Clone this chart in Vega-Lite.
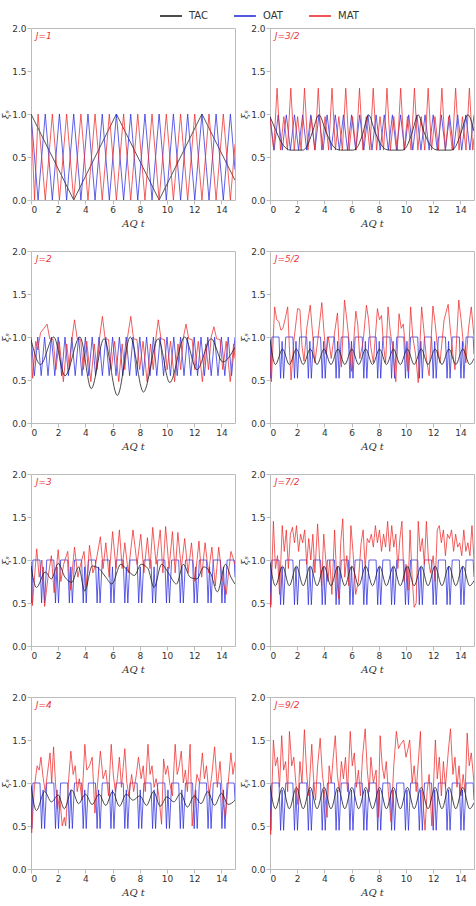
{
"$schema":"https://vega.github.io/schema/vega-lite/v6.json",
"padding":{"left":0,"top":4,"right":0,"bottom":0},
"data":{"values":[
{"p":"J=1","s":"TAC","x":0,"y":1},{"p":"J=1","s":"TAC","x":3.14,"y":0},{"p":"J=1","s":"TAC","x":6.28,"y":1},{"p":"J=1","s":"TAC","x":9.42,"y":0},{"p":"J=1","s":"TAC","x":12.57,"y":1},{"p":"J=1","s":"TAC","x":15,"y":0.23},
{"p":"J=1","s":"OAT","x":0,"y":1},{"p":"J=1","s":"OAT","x":0.52,"y":0},{"p":"J=1","s":"OAT","x":1.05,"y":1},{"p":"J=1","s":"OAT","x":1.57,"y":0},{"p":"J=1","s":"OAT","x":2.09,"y":1},{"p":"J=1","s":"OAT","x":2.62,"y":0},{"p":"J=1","s":"OAT","x":3.14,"y":1},{"p":"J=1","s":"OAT","x":3.67,"y":0},{"p":"J=1","s":"OAT","x":4.19,"y":1},{"p":"J=1","s":"OAT","x":4.71,"y":0},{"p":"J=1","s":"OAT","x":5.24,"y":1},{"p":"J=1","s":"OAT","x":5.76,"y":0},{"p":"J=1","s":"OAT","x":6.28,"y":1},{"p":"J=1","s":"OAT","x":6.81,"y":0},{"p":"J=1","s":"OAT","x":7.33,"y":1},{"p":"J=1","s":"OAT","x":7.85,"y":0},{"p":"J=1","s":"OAT","x":8.38,"y":1},{"p":"J=1","s":"OAT","x":8.9,"y":0},{"p":"J=1","s":"OAT","x":9.42,"y":1},{"p":"J=1","s":"OAT","x":9.95,"y":0},{"p":"J=1","s":"OAT","x":10.47,"y":1},{"p":"J=1","s":"OAT","x":11.0,"y":0},{"p":"J=1","s":"OAT","x":11.52,"y":1},{"p":"J=1","s":"OAT","x":12.04,"y":0},{"p":"J=1","s":"OAT","x":12.57,"y":1},{"p":"J=1","s":"OAT","x":13.09,"y":0},{"p":"J=1","s":"OAT","x":13.61,"y":1},{"p":"J=1","s":"OAT","x":14.14,"y":0},{"p":"J=1","s":"OAT","x":14.66,"y":1},{"p":"J=1","s":"OAT","x":15,"y":0.35},
{"p":"J=1","s":"MAT","x":0,"y":1},{"p":"J=1","s":"MAT","x":0.26,"y":0},{"p":"J=1","s":"MAT","x":0.52,"y":1},{"p":"J=1","s":"MAT","x":1.05,"y":0},{"p":"J=1","s":"MAT","x":1.57,"y":1},{"p":"J=1","s":"MAT","x":2.09,"y":0},{"p":"J=1","s":"MAT","x":2.62,"y":1},{"p":"J=1","s":"MAT","x":3.14,"y":0},{"p":"J=1","s":"MAT","x":3.67,"y":1},{"p":"J=1","s":"MAT","x":4.19,"y":0},{"p":"J=1","s":"MAT","x":4.71,"y":1},{"p":"J=1","s":"MAT","x":5.24,"y":0},{"p":"J=1","s":"MAT","x":5.76,"y":1},{"p":"J=1","s":"MAT","x":6.28,"y":0},{"p":"J=1","s":"MAT","x":6.81,"y":1},{"p":"J=1","s":"MAT","x":7.33,"y":0},{"p":"J=1","s":"MAT","x":7.85,"y":1},{"p":"J=1","s":"MAT","x":8.38,"y":0},{"p":"J=1","s":"MAT","x":8.9,"y":1},{"p":"J=1","s":"MAT","x":9.42,"y":0},{"p":"J=1","s":"MAT","x":9.95,"y":1},{"p":"J=1","s":"MAT","x":10.47,"y":0},{"p":"J=1","s":"MAT","x":11.0,"y":1},{"p":"J=1","s":"MAT","x":11.52,"y":0},{"p":"J=1","s":"MAT","x":12.04,"y":1},{"p":"J=1","s":"MAT","x":12.57,"y":0},{"p":"J=1","s":"MAT","x":13.09,"y":1},{"p":"J=1","s":"MAT","x":13.61,"y":0},{"p":"J=1","s":"MAT","x":14.14,"y":1},{"p":"J=1","s":"MAT","x":14.66,"y":0},{"p":"J=1","s":"MAT","x":15,"y":0.65},

{"p":"J=3/2","s":"TAC","x":0,"y":0.97},{"p":"J=3/2","s":"TAC","x":0.4,"y":0.82},{"p":"J=3/2","s":"TAC","x":0.8,"y":0.68},{"p":"J=3/2","s":"TAC","x":1.2,"y":0.6},{"p":"J=3/2","s":"TAC","x":1.5,"y":0.58},{"p":"J=3/2","s":"TAC","x":2.4,"y":0.58},{"p":"J=3/2","s":"TAC","x":2.7,"y":0.62},{"p":"J=3/2","s":"TAC","x":3.1,"y":0.78},{"p":"J=3/2","s":"TAC","x":3.6,"y":0.99},{"p":"J=3/2","s":"TAC","x":4.1,"y":0.8},{"p":"J=3/2","s":"TAC","x":4.5,"y":0.66},{"p":"J=3/2","s":"TAC","x":4.9,"y":0.59},{"p":"J=3/2","s":"TAC","x":5.2,"y":0.58},{"p":"J=3/2","s":"TAC","x":6.1,"y":0.58},{"p":"J=3/2","s":"TAC","x":6.4,"y":0.61},{"p":"J=3/2","s":"TAC","x":6.8,"y":0.76},{"p":"J=3/2","s":"TAC","x":7.25,"y":0.99},{"p":"J=3/2","s":"TAC","x":7.7,"y":0.8},{"p":"J=3/2","s":"TAC","x":8.1,"y":0.66},{"p":"J=3/2","s":"TAC","x":8.5,"y":0.59},{"p":"J=3/2","s":"TAC","x":8.8,"y":0.58},{"p":"J=3/2","s":"TAC","x":9.7,"y":0.58},{"p":"J=3/2","s":"TAC","x":10.0,"y":0.61},{"p":"J=3/2","s":"TAC","x":10.4,"y":0.76},{"p":"J=3/2","s":"TAC","x":10.9,"y":0.99},{"p":"J=3/2","s":"TAC","x":11.3,"y":0.8},{"p":"J=3/2","s":"TAC","x":11.7,"y":0.66},{"p":"J=3/2","s":"TAC","x":12.1,"y":0.59},{"p":"J=3/2","s":"TAC","x":12.4,"y":0.58},{"p":"J=3/2","s":"TAC","x":13.3,"y":0.58},{"p":"J=3/2","s":"TAC","x":13.6,"y":0.61},{"p":"J=3/2","s":"TAC","x":14.0,"y":0.76},{"p":"J=3/2","s":"TAC","x":14.55,"y":0.99},{"p":"J=3/2","s":"TAC","x":15,"y":0.8},
{"p":"J=3/2","s":"OAT","x":0,"y":0.97},{"p":"J=3/2","s":"OAT","x":0.3,"y":0.58},{"p":"J=3/2","s":"OAT","x":0.6,"y":0.99},{"p":"J=3/2","s":"OAT","x":0.9,"y":0.58},{"p":"J=3/2","s":"OAT","x":1.2,"y":0.99},{"p":"J=3/2","s":"OAT","x":1.5,"y":0.58},{"p":"J=3/2","s":"OAT","x":1.8,"y":0.99},{"p":"J=3/2","s":"OAT","x":2.1,"y":0.58},{"p":"J=3/2","s":"OAT","x":2.4,"y":0.99},{"p":"J=3/2","s":"OAT","x":2.7,"y":0.58},{"p":"J=3/2","s":"OAT","x":3.0,"y":0.99},{"p":"J=3/2","s":"OAT","x":3.3,"y":0.58},{"p":"J=3/2","s":"OAT","x":3.6,"y":0.99},{"p":"J=3/2","s":"OAT","x":3.9,"y":0.58},{"p":"J=3/2","s":"OAT","x":4.2,"y":0.99},{"p":"J=3/2","s":"OAT","x":4.5,"y":0.58},{"p":"J=3/2","s":"OAT","x":4.8,"y":0.99},{"p":"J=3/2","s":"OAT","x":5.1,"y":0.58},{"p":"J=3/2","s":"OAT","x":5.4,"y":0.99},{"p":"J=3/2","s":"OAT","x":5.7,"y":0.58},{"p":"J=3/2","s":"OAT","x":6.0,"y":0.99},{"p":"J=3/2","s":"OAT","x":6.3,"y":0.58},{"p":"J=3/2","s":"OAT","x":6.6,"y":0.99},{"p":"J=3/2","s":"OAT","x":6.9,"y":0.58},{"p":"J=3/2","s":"OAT","x":7.2,"y":0.99},{"p":"J=3/2","s":"OAT","x":7.5,"y":0.58},{"p":"J=3/2","s":"OAT","x":7.8,"y":0.99},{"p":"J=3/2","s":"OAT","x":8.1,"y":0.58},{"p":"J=3/2","s":"OAT","x":8.4,"y":0.99},{"p":"J=3/2","s":"OAT","x":8.7,"y":0.58},{"p":"J=3/2","s":"OAT","x":9.0,"y":0.99},{"p":"J=3/2","s":"OAT","x":9.3,"y":0.58},{"p":"J=3/2","s":"OAT","x":9.6,"y":0.99},{"p":"J=3/2","s":"OAT","x":9.9,"y":0.58},{"p":"J=3/2","s":"OAT","x":10.2,"y":0.99},{"p":"J=3/2","s":"OAT","x":10.5,"y":0.58},{"p":"J=3/2","s":"OAT","x":10.8,"y":0.99},{"p":"J=3/2","s":"OAT","x":11.1,"y":0.58},{"p":"J=3/2","s":"OAT","x":11.4,"y":0.99},{"p":"J=3/2","s":"OAT","x":11.7,"y":0.58},{"p":"J=3/2","s":"OAT","x":12.0,"y":0.99},{"p":"J=3/2","s":"OAT","x":12.3,"y":0.58},{"p":"J=3/2","s":"OAT","x":12.6,"y":0.99},{"p":"J=3/2","s":"OAT","x":12.9,"y":0.58},{"p":"J=3/2","s":"OAT","x":13.2,"y":0.99},{"p":"J=3/2","s":"OAT","x":13.5,"y":0.58},{"p":"J=3/2","s":"OAT","x":13.8,"y":0.99},{"p":"J=3/2","s":"OAT","x":14.1,"y":0.58},{"p":"J=3/2","s":"OAT","x":14.4,"y":0.99},{"p":"J=3/2","s":"OAT","x":14.7,"y":0.58},{"p":"J=3/2","s":"OAT","x":15,"y":0.99},
{"p":"J=3/2","s":"MAT","x":0,"y":0.95},{"p":"J=3/2","s":"MAT","x":0.27,"y":0.58},
{"p":"J=3/2","s":"MAT","x":0.52,"y":1.3},{"p":"J=3/2","s":"MAT","x":0.77,"y":0.58},{"p":"J=3/2","s":"MAT","x":1.02,"y":0.97},{"p":"J=3/2","s":"MAT","x":1.28,"y":0.58},
{"p":"J=3/2","s":"MAT","x":1.53,"y":1.3},{"p":"J=3/2","s":"MAT","x":1.78,"y":0.58},{"p":"J=3/2","s":"MAT","x":2.03,"y":0.97},{"p":"J=3/2","s":"MAT","x":2.29,"y":0.58},
{"p":"J=3/2","s":"MAT","x":2.54,"y":1.3},{"p":"J=3/2","s":"MAT","x":2.79,"y":0.58},{"p":"J=3/2","s":"MAT","x":3.04,"y":0.97},{"p":"J=3/2","s":"MAT","x":3.3,"y":0.58},
{"p":"J=3/2","s":"MAT","x":3.55,"y":1.3},{"p":"J=3/2","s":"MAT","x":3.8,"y":0.58},{"p":"J=3/2","s":"MAT","x":4.05,"y":0.97},{"p":"J=3/2","s":"MAT","x":4.31,"y":0.58},
{"p":"J=3/2","s":"MAT","x":4.56,"y":1.3},{"p":"J=3/2","s":"MAT","x":4.81,"y":0.58},{"p":"J=3/2","s":"MAT","x":5.06,"y":0.97},{"p":"J=3/2","s":"MAT","x":5.32,"y":0.58},
{"p":"J=3/2","s":"MAT","x":5.57,"y":1.3},{"p":"J=3/2","s":"MAT","x":5.82,"y":0.58},{"p":"J=3/2","s":"MAT","x":6.07,"y":0.97},{"p":"J=3/2","s":"MAT","x":6.33,"y":0.58},
{"p":"J=3/2","s":"MAT","x":6.58,"y":1.3},{"p":"J=3/2","s":"MAT","x":6.83,"y":0.58},{"p":"J=3/2","s":"MAT","x":7.08,"y":0.97},{"p":"J=3/2","s":"MAT","x":7.34,"y":0.58},
{"p":"J=3/2","s":"MAT","x":7.59,"y":1.3},{"p":"J=3/2","s":"MAT","x":7.84,"y":0.58},{"p":"J=3/2","s":"MAT","x":8.09,"y":0.97},{"p":"J=3/2","s":"MAT","x":8.35,"y":0.58},
{"p":"J=3/2","s":"MAT","x":8.6,"y":1.3},{"p":"J=3/2","s":"MAT","x":8.85,"y":0.58},{"p":"J=3/2","s":"MAT","x":9.1,"y":0.97},{"p":"J=3/2","s":"MAT","x":9.36,"y":0.58},
{"p":"J=3/2","s":"MAT","x":9.61,"y":1.3},{"p":"J=3/2","s":"MAT","x":9.86,"y":0.58},{"p":"J=3/2","s":"MAT","x":10.11,"y":0.97},{"p":"J=3/2","s":"MAT","x":10.37,"y":0.58},
{"p":"J=3/2","s":"MAT","x":10.62,"y":1.3},{"p":"J=3/2","s":"MAT","x":10.87,"y":0.58},{"p":"J=3/2","s":"MAT","x":11.12,"y":0.97},{"p":"J=3/2","s":"MAT","x":11.38,"y":0.58},
{"p":"J=3/2","s":"MAT","x":11.63,"y":1.3},{"p":"J=3/2","s":"MAT","x":11.88,"y":0.58},{"p":"J=3/2","s":"MAT","x":12.13,"y":0.97},{"p":"J=3/2","s":"MAT","x":12.39,"y":0.58},
{"p":"J=3/2","s":"MAT","x":12.64,"y":1.3},{"p":"J=3/2","s":"MAT","x":12.89,"y":0.58},{"p":"J=3/2","s":"MAT","x":13.14,"y":0.97},{"p":"J=3/2","s":"MAT","x":13.4,"y":0.58},
{"p":"J=3/2","s":"MAT","x":13.65,"y":1.3},{"p":"J=3/2","s":"MAT","x":13.9,"y":0.58},{"p":"J=3/2","s":"MAT","x":14.15,"y":0.97},{"p":"J=3/2","s":"MAT","x":14.41,"y":0.58},
{"p":"J=3/2","s":"MAT","x":14.66,"y":1.3},{"p":"J=3/2","s":"MAT","x":14.91,"y":0.58},{"p":"J=3/2","s":"MAT","x":15,"y":0.72},

{"p":"J=2","s":"TAC","x":0,"y":0.97},{"p":"J=2","s":"TAC","x":0.7,"y":0.68},{"p":"J=2","s":"TAC","x":1.67,"y":1.0},{"p":"J=2","s":"TAC","x":2.5,"y":0.55},{"p":"J=2","s":"TAC","x":3.6,"y":1.0},{"p":"J=2","s":"TAC","x":4.43,"y":0.4},{"p":"J=2","s":"TAC","x":5.37,"y":0.98},{"p":"J=2","s":"TAC","x":6.35,"y":0.32},{"p":"J=2","s":"TAC","x":7.3,"y":1.0},{"p":"J=2","s":"TAC","x":8.27,"y":0.36},{"p":"J=2","s":"TAC","x":9.35,"y":0.98},{"p":"J=2","s":"TAC","x":10.2,"y":0.47},{"p":"J=2","s":"TAC","x":11.3,"y":1.0},{"p":"J=2","s":"TAC","x":12.2,"y":0.62},{"p":"J=2","s":"TAC","x":13.25,"y":0.98},{"p":"J=2","s":"TAC","x":14.1,"y":0.71},{"p":"J=2","s":"TAC","x":15,"y":0.88},
{"p":"J=2","s":"OAT","x":0,"y":1},{"p":"J=2","s":"OAT","x":0.25,"y":0.55},{"p":"J=2","s":"OAT","x":0.5,"y":1},{"p":"J=2","s":"OAT","x":0.75,"y":0.55},{"p":"J=2","s":"OAT","x":1.0,"y":1},{"p":"J=2","s":"OAT","x":1.25,"y":0.55},{"p":"J=2","s":"OAT","x":1.5,"y":1},{"p":"J=2","s":"OAT","x":1.75,"y":0.55},{"p":"J=2","s":"OAT","x":2.0,"y":1},{"p":"J=2","s":"OAT","x":2.25,"y":0.55},{"p":"J=2","s":"OAT","x":2.5,"y":1},{"p":"J=2","s":"OAT","x":2.75,"y":0.55},{"p":"J=2","s":"OAT","x":3.0,"y":1},{"p":"J=2","s":"OAT","x":3.25,"y":0.55},{"p":"J=2","s":"OAT","x":3.5,"y":1},{"p":"J=2","s":"OAT","x":3.75,"y":0.55},{"p":"J=2","s":"OAT","x":4.0,"y":1},{"p":"J=2","s":"OAT","x":4.25,"y":0.55},{"p":"J=2","s":"OAT","x":4.5,"y":1},{"p":"J=2","s":"OAT","x":4.75,"y":0.55},{"p":"J=2","s":"OAT","x":5.0,"y":1},{"p":"J=2","s":"OAT","x":5.25,"y":0.55},{"p":"J=2","s":"OAT","x":5.5,"y":1},{"p":"J=2","s":"OAT","x":5.75,"y":0.55},{"p":"J=2","s":"OAT","x":6.0,"y":1},{"p":"J=2","s":"OAT","x":6.25,"y":0.55},{"p":"J=2","s":"OAT","x":6.5,"y":1},{"p":"J=2","s":"OAT","x":6.75,"y":0.55},{"p":"J=2","s":"OAT","x":7.0,"y":1},{"p":"J=2","s":"OAT","x":7.25,"y":0.55},{"p":"J=2","s":"OAT","x":7.5,"y":1},{"p":"J=2","s":"OAT","x":7.75,"y":0.55},{"p":"J=2","s":"OAT","x":8.0,"y":1},{"p":"J=2","s":"OAT","x":8.25,"y":0.55},{"p":"J=2","s":"OAT","x":8.5,"y":1},{"p":"J=2","s":"OAT","x":8.75,"y":0.55},{"p":"J=2","s":"OAT","x":9.0,"y":1},{"p":"J=2","s":"OAT","x":9.25,"y":0.55},{"p":"J=2","s":"OAT","x":9.5,"y":1},{"p":"J=2","s":"OAT","x":9.75,"y":0.55},{"p":"J=2","s":"OAT","x":10.0,"y":1},{"p":"J=2","s":"OAT","x":10.25,"y":0.55},{"p":"J=2","s":"OAT","x":10.5,"y":1},{"p":"J=2","s":"OAT","x":10.75,"y":0.55},{"p":"J=2","s":"OAT","x":11.0,"y":1},{"p":"J=2","s":"OAT","x":11.25,"y":0.55},{"p":"J=2","s":"OAT","x":11.5,"y":1},{"p":"J=2","s":"OAT","x":11.75,"y":0.55},{"p":"J=2","s":"OAT","x":12.0,"y":1},{"p":"J=2","s":"OAT","x":12.25,"y":0.55},{"p":"J=2","s":"OAT","x":12.5,"y":1},{"p":"J=2","s":"OAT","x":12.75,"y":0.55},{"p":"J=2","s":"OAT","x":13.0,"y":1},{"p":"J=2","s":"OAT","x":13.25,"y":0.55},{"p":"J=2","s":"OAT","x":13.5,"y":1},{"p":"J=2","s":"OAT","x":13.75,"y":0.55},{"p":"J=2","s":"OAT","x":14.0,"y":1},{"p":"J=2","s":"OAT","x":14.25,"y":0.55},{"p":"J=2","s":"OAT","x":14.5,"y":1},{"p":"J=2","s":"OAT","x":14.75,"y":0.55},{"p":"J=2","s":"OAT","x":15,"y":1},
{"p":"J=2","s":"MAT","x":0,"y":0.95},{"p":"J=2","s":"MAT","x":0.12,"y":0.52},{"p":"J=2","s":"MAT","x":0.35,"y":0.95},{"p":"J=2","s":"MAT","x":0.5,"y":0.85},{"p":"J=2","s":"MAT","x":0.7,"y":1.05},{"p":"J=2","s":"MAT","x":0.95,"y":1.1},{"p":"J=2","s":"MAT","x":1.18,"y":1.15},
{"p":"J=2","s":"MAT","x":1.38,"y":0.98},{"p":"J=2","s":"MAT","x":1.63,"y":0.97},{"p":"J=2","s":"MAT","x":1.83,"y":0.62},{"p":"J=2","s":"MAT","x":2.08,"y":0.95},{"p":"J=2","s":"MAT","x":2.38,"y":0.48},{"p":"J=2","s":"MAT","x":2.63,"y":0.92},{"p":"J=2","s":"MAT","x":2.83,"y":0.62},{"p":"J=2","s":"MAT","x":3.03,"y":1.0},{"p":"J=2","s":"MAT","x":3.2,"y":1.2},
{"p":"J=2","s":"MAT","x":3.4,"y":0.98},{"p":"J=2","s":"MAT","x":3.65,"y":0.97},{"p":"J=2","s":"MAT","x":3.85,"y":0.62},{"p":"J=2","s":"MAT","x":4.1,"y":0.95},{"p":"J=2","s":"MAT","x":4.4,"y":0.48},{"p":"J=2","s":"MAT","x":4.65,"y":0.92},{"p":"J=2","s":"MAT","x":4.85,"y":0.62},{"p":"J=2","s":"MAT","x":5.05,"y":1.0},{"p":"J=2","s":"MAT","x":5.25,"y":1.24},
{"p":"J=2","s":"MAT","x":5.45,"y":0.98},{"p":"J=2","s":"MAT","x":5.7,"y":0.97},{"p":"J=2","s":"MAT","x":5.9,"y":0.62},{"p":"J=2","s":"MAT","x":6.15,"y":0.95},{"p":"J=2","s":"MAT","x":6.45,"y":0.48},{"p":"J=2","s":"MAT","x":6.7,"y":0.92},{"p":"J=2","s":"MAT","x":6.9,"y":0.62},{"p":"J=2","s":"MAT","x":7.1,"y":1.0},{"p":"J=2","s":"MAT","x":7.34,"y":1.24},
{"p":"J=2","s":"MAT","x":7.54,"y":0.98},{"p":"J=2","s":"MAT","x":7.79,"y":0.97},{"p":"J=2","s":"MAT","x":7.99,"y":0.62},{"p":"J=2","s":"MAT","x":8.24,"y":0.95},{"p":"J=2","s":"MAT","x":8.54,"y":0.48},{"p":"J=2","s":"MAT","x":8.79,"y":0.92},{"p":"J=2","s":"MAT","x":8.99,"y":0.62},{"p":"J=2","s":"MAT","x":9.19,"y":1.0},{"p":"J=2","s":"MAT","x":9.36,"y":1.2},
{"p":"J=2","s":"MAT","x":9.56,"y":0.98},{"p":"J=2","s":"MAT","x":9.81,"y":0.97},{"p":"J=2","s":"MAT","x":10.01,"y":0.62},{"p":"J=2","s":"MAT","x":10.26,"y":0.95},{"p":"J=2","s":"MAT","x":10.56,"y":0.48},{"p":"J=2","s":"MAT","x":10.81,"y":0.92},{"p":"J=2","s":"MAT","x":11.01,"y":0.62},{"p":"J=2","s":"MAT","x":11.21,"y":1.0},{"p":"J=2","s":"MAT","x":11.4,"y":1.15},
{"p":"J=2","s":"MAT","x":11.6,"y":0.98},{"p":"J=2","s":"MAT","x":11.85,"y":0.97},{"p":"J=2","s":"MAT","x":12.05,"y":0.62},{"p":"J=2","s":"MAT","x":12.3,"y":0.95},{"p":"J=2","s":"MAT","x":12.6,"y":0.48},{"p":"J=2","s":"MAT","x":12.85,"y":0.92},{"p":"J=2","s":"MAT","x":13.05,"y":0.62},{"p":"J=2","s":"MAT","x":13.25,"y":1.0},{"p":"J=2","s":"MAT","x":13.45,"y":1.12},
{"p":"J=2","s":"MAT","x":13.65,"y":0.98},{"p":"J=2","s":"MAT","x":13.9,"y":0.97},{"p":"J=2","s":"MAT","x":14.1,"y":0.62},{"p":"J=2","s":"MAT","x":14.35,"y":0.95},{"p":"J=2","s":"MAT","x":14.65,"y":0.48},{"p":"J=2","s":"MAT","x":14.9,"y":0.92},{"p":"J=2","s":"MAT","x":15,"y":0.75},

{"p":"J=5/2","s":"TAC","x":0,"y":0.97},{"p":"J=5/2","s":"TAC","x":0.4,"y":0.68},{"p":"J=5/2","s":"TAC","x":0.92,"y":0.86},{"p":"J=5/2","s":"TAC","x":1.42,"y":0.68},{"p":"J=5/2","s":"TAC","x":1.94,"y":0.86},{"p":"J=5/2","s":"TAC","x":2.44,"y":0.68},{"p":"J=5/2","s":"TAC","x":2.96,"y":0.86},{"p":"J=5/2","s":"TAC","x":3.46,"y":0.68},{"p":"J=5/2","s":"TAC","x":3.98,"y":0.86},{"p":"J=5/2","s":"TAC","x":4.48,"y":0.68},{"p":"J=5/2","s":"TAC","x":5.0,"y":0.86},{"p":"J=5/2","s":"TAC","x":5.5,"y":0.68},{"p":"J=5/2","s":"TAC","x":6.02,"y":0.86},{"p":"J=5/2","s":"TAC","x":6.52,"y":0.68},{"p":"J=5/2","s":"TAC","x":7.04,"y":0.86},{"p":"J=5/2","s":"TAC","x":7.54,"y":0.68},{"p":"J=5/2","s":"TAC","x":8.06,"y":0.86},{"p":"J=5/2","s":"TAC","x":8.56,"y":0.68},{"p":"J=5/2","s":"TAC","x":9.08,"y":0.86},{"p":"J=5/2","s":"TAC","x":9.58,"y":0.68},{"p":"J=5/2","s":"TAC","x":10.1,"y":0.86},{"p":"J=5/2","s":"TAC","x":10.6,"y":0.68},{"p":"J=5/2","s":"TAC","x":11.12,"y":0.86},{"p":"J=5/2","s":"TAC","x":11.62,"y":0.68},{"p":"J=5/2","s":"TAC","x":12.14,"y":0.86},{"p":"J=5/2","s":"TAC","x":12.64,"y":0.68},{"p":"J=5/2","s":"TAC","x":13.16,"y":0.86},{"p":"J=5/2","s":"TAC","x":13.66,"y":0.68},{"p":"J=5/2","s":"TAC","x":14.18,"y":0.86},{"p":"J=5/2","s":"TAC","x":14.68,"y":0.68},{"p":"J=5/2","s":"TAC","x":15,"y":0.75},
{"p":"J=5/2","s":"OAT","x":0,"y":0.98},{"p":"J=5/2","s":"OAT","x":0.06,"y":0.52},{"p":"J=5/2","s":"OAT","x":0.14,"y":1},{"p":"J=5/2","s":"OAT","x":0.66,"y":1},{"p":"J=5/2","s":"OAT","x":0.78,"y":0.52},{"p":"J=5/2","s":"OAT","x":0.89,"y":0.95},{"p":"J=5/2","s":"OAT","x":1.0,"y":0.52},{"p":"J=5/2","s":"OAT","x":1.16,"y":1},{"p":"J=5/2","s":"OAT","x":1.68,"y":1},{"p":"J=5/2","s":"OAT","x":1.8,"y":0.52},{"p":"J=5/2","s":"OAT","x":1.91,"y":0.95},{"p":"J=5/2","s":"OAT","x":2.02,"y":0.52},{"p":"J=5/2","s":"OAT","x":2.18,"y":1},{"p":"J=5/2","s":"OAT","x":2.7,"y":1},{"p":"J=5/2","s":"OAT","x":2.82,"y":0.52},{"p":"J=5/2","s":"OAT","x":2.93,"y":0.95},{"p":"J=5/2","s":"OAT","x":3.04,"y":0.52},{"p":"J=5/2","s":"OAT","x":3.2,"y":1},{"p":"J=5/2","s":"OAT","x":3.72,"y":1},{"p":"J=5/2","s":"OAT","x":3.84,"y":0.52},{"p":"J=5/2","s":"OAT","x":3.95,"y":0.95},{"p":"J=5/2","s":"OAT","x":4.06,"y":0.52},{"p":"J=5/2","s":"OAT","x":4.22,"y":1},{"p":"J=5/2","s":"OAT","x":4.74,"y":1},{"p":"J=5/2","s":"OAT","x":4.86,"y":0.52},{"p":"J=5/2","s":"OAT","x":4.97,"y":0.95},{"p":"J=5/2","s":"OAT","x":5.08,"y":0.52},{"p":"J=5/2","s":"OAT","x":5.24,"y":1},{"p":"J=5/2","s":"OAT","x":5.76,"y":1},{"p":"J=5/2","s":"OAT","x":5.88,"y":0.52},{"p":"J=5/2","s":"OAT","x":5.99,"y":0.95},{"p":"J=5/2","s":"OAT","x":6.1,"y":0.52},{"p":"J=5/2","s":"OAT","x":6.26,"y":1},{"p":"J=5/2","s":"OAT","x":6.78,"y":1},{"p":"J=5/2","s":"OAT","x":6.9,"y":0.52},{"p":"J=5/2","s":"OAT","x":7.01,"y":0.95},{"p":"J=5/2","s":"OAT","x":7.12,"y":0.52},{"p":"J=5/2","s":"OAT","x":7.28,"y":1},{"p":"J=5/2","s":"OAT","x":7.8,"y":1},{"p":"J=5/2","s":"OAT","x":7.92,"y":0.52},{"p":"J=5/2","s":"OAT","x":8.03,"y":0.95},{"p":"J=5/2","s":"OAT","x":8.14,"y":0.52},{"p":"J=5/2","s":"OAT","x":8.3,"y":1},{"p":"J=5/2","s":"OAT","x":8.82,"y":1},{"p":"J=5/2","s":"OAT","x":8.94,"y":0.52},{"p":"J=5/2","s":"OAT","x":9.05,"y":0.95},{"p":"J=5/2","s":"OAT","x":9.16,"y":0.52},{"p":"J=5/2","s":"OAT","x":9.32,"y":1},{"p":"J=5/2","s":"OAT","x":9.84,"y":1},{"p":"J=5/2","s":"OAT","x":9.96,"y":0.52},{"p":"J=5/2","s":"OAT","x":10.07,"y":0.95},{"p":"J=5/2","s":"OAT","x":10.18,"y":0.52},{"p":"J=5/2","s":"OAT","x":10.34,"y":1},{"p":"J=5/2","s":"OAT","x":10.86,"y":1},{"p":"J=5/2","s":"OAT","x":10.98,"y":0.52},{"p":"J=5/2","s":"OAT","x":11.09,"y":0.95},{"p":"J=5/2","s":"OAT","x":11.2,"y":0.52},{"p":"J=5/2","s":"OAT","x":11.36,"y":1},{"p":"J=5/2","s":"OAT","x":11.88,"y":1},{"p":"J=5/2","s":"OAT","x":12.0,"y":0.52},{"p":"J=5/2","s":"OAT","x":12.11,"y":0.95},{"p":"J=5/2","s":"OAT","x":12.22,"y":0.52},{"p":"J=5/2","s":"OAT","x":12.38,"y":1},{"p":"J=5/2","s":"OAT","x":12.9,"y":1},{"p":"J=5/2","s":"OAT","x":13.02,"y":0.52},{"p":"J=5/2","s":"OAT","x":13.13,"y":0.95},{"p":"J=5/2","s":"OAT","x":13.24,"y":0.52},{"p":"J=5/2","s":"OAT","x":13.4,"y":1},{"p":"J=5/2","s":"OAT","x":13.92,"y":1},{"p":"J=5/2","s":"OAT","x":14.04,"y":0.52},{"p":"J=5/2","s":"OAT","x":14.15,"y":0.95},{"p":"J=5/2","s":"OAT","x":14.26,"y":0.52},{"p":"J=5/2","s":"OAT","x":14.42,"y":1},{"p":"J=5/2","s":"OAT","x":14.94,"y":1},{"p":"J=5/2","s":"OAT","x":15,"y":0.8},
{"p":"J=5/2","s":"MAT","x":0,"y":0.8},{"p":"J=5/2","s":"MAT","x":0.1,"y":0.48},{"p":"J=5/2","s":"MAT","x":0.34,"y":1.35},{"p":"J=5/2","s":"MAT","x":0.5,"y":1.2},{"p":"J=5/2","s":"MAT","x":0.65,"y":1.18},{"p":"J=5/2","s":"MAT","x":0.8,"y":1.08},{"p":"J=5/2","s":"MAT","x":0.95,"y":1.1},{"p":"J=5/2","s":"MAT","x":1.1,"y":1.2},{"p":"J=5/2","s":"MAT","x":1.3,"y":1.35},{"p":"J=5/2","s":"MAT","x":1.42,"y":0.9},{"p":"J=5/2","s":"MAT","x":1.55,"y":0.5},{"p":"J=5/2","s":"MAT","x":1.75,"y":0.95},{"p":"J=5/2","s":"MAT","x":2.03,"y":1.33},{"p":"J=5/2","s":"MAT","x":2.2,"y":1.32},{"p":"J=5/2","s":"MAT","x":2.35,"y":0.9},{"p":"J=5/2","s":"MAT","x":2.5,"y":0.72},{"p":"J=5/2","s":"MAT","x":2.7,"y":1.1},{"p":"J=5/2","s":"MAT","x":2.96,"y":1.37},{"p":"J=5/2","s":"MAT","x":3.15,"y":1.0},{"p":"J=5/2","s":"MAT","x":3.3,"y":0.7},{"p":"J=5/2","s":"MAT","x":3.5,"y":0.95},{"p":"J=5/2","s":"MAT","x":3.81,"y":1.4},{"p":"J=5/2","s":"MAT","x":3.95,"y":1.1},{"p":"J=5/2","s":"MAT","x":4.1,"y":0.8},{"p":"J=5/2","s":"MAT","x":4.3,"y":1.0},{"p":"J=5/2","s":"MAT","x":4.5,"y":0.75},{"p":"J=5/2","s":"MAT","x":4.75,"y":1.05},{"p":"J=5/2","s":"MAT","x":4.96,"y":1.28},{"p":"J=5/2","s":"MAT","x":5.1,"y":0.85},{"p":"J=5/2","s":"MAT","x":5.25,"y":0.65},{"p":"J=5/2","s":"MAT","x":5.48,"y":1.43},{"p":"J=5/2","s":"MAT","x":5.65,"y":1.2},{"p":"J=5/2","s":"MAT","x":5.85,"y":0.9},{"p":"J=5/2","s":"MAT","x":6.0,"y":0.6},{"p":"J=5/2","s":"MAT","x":6.31,"y":1.3},{"p":"J=5/2","s":"MAT","x":6.45,"y":1.15},{"p":"J=5/2","s":"MAT","x":6.6,"y":0.75},{"p":"J=5/2","s":"MAT","x":6.85,"y":0.95},{"p":"J=5/2","s":"MAT","x":7.09,"y":1.37},{"p":"J=5/2","s":"MAT","x":7.25,"y":1.2},{"p":"J=5/2","s":"MAT","x":7.4,"y":0.9},{"p":"J=5/2","s":"MAT","x":7.6,"y":0.7},{"p":"J=5/2","s":"MAT","x":7.9,"y":1.33},{"p":"J=5/2","s":"MAT","x":8.05,"y":1.2},{"p":"J=5/2","s":"MAT","x":8.2,"y":1.25},{"p":"J=5/2","s":"MAT","x":8.35,"y":0.9},{"p":"J=5/2","s":"MAT","x":8.5,"y":0.7},{"p":"J=5/2","s":"MAT","x":8.68,"y":1.35},{"p":"J=5/2","s":"MAT","x":8.85,"y":1.05},{"p":"J=5/2","s":"MAT","x":9.0,"y":0.9},{"p":"J=5/2","s":"MAT","x":9.25,"y":0.48},{"p":"J=5/2","s":"MAT","x":9.49,"y":1.27},{"p":"J=5/2","s":"MAT","x":9.65,"y":1.1},{"p":"J=5/2","s":"MAT","x":9.8,"y":1.15},{"p":"J=5/2","s":"MAT","x":10.0,"y":0.8},{"p":"J=5/2","s":"MAT","x":10.15,"y":0.6},{"p":"J=5/2","s":"MAT","x":10.34,"y":1.35},{"p":"J=5/2","s":"MAT","x":10.5,"y":1.0},{"p":"J=5/2","s":"MAT","x":10.7,"y":0.8},{"p":"J=5/2","s":"MAT","x":10.9,"y":0.47},{"p":"J=5/2","s":"MAT","x":11.15,"y":1.35},{"p":"J=5/2","s":"MAT","x":11.3,"y":1.1},{"p":"J=5/2","s":"MAT","x":11.5,"y":0.75},{"p":"J=5/2","s":"MAT","x":11.7,"y":0.55},{"p":"J=5/2","s":"MAT","x":11.98,"y":1.36},{"p":"J=5/2","s":"MAT","x":12.15,"y":1.15},{"p":"J=5/2","s":"MAT","x":12.3,"y":0.9},{"p":"J=5/2","s":"MAT","x":12.5,"y":0.7},{"p":"J=5/2","s":"MAT","x":12.8,"y":1.2},{"p":"J=5/2","s":"MAT","x":13.1,"y":1.38},{"p":"J=5/2","s":"MAT","x":13.25,"y":1.1},{"p":"J=5/2","s":"MAT","x":13.45,"y":0.8},{"p":"J=5/2","s":"MAT","x":13.6,"y":0.62},{"p":"J=5/2","s":"MAT","x":13.88,"y":1.43},{"p":"J=5/2","s":"MAT","x":14.05,"y":1.2},{"p":"J=5/2","s":"MAT","x":14.2,"y":0.95},{"p":"J=5/2","s":"MAT","x":14.4,"y":0.7},{"p":"J=5/2","s":"MAT","x":14.6,"y":1.1},{"p":"J=5/2","s":"MAT","x":14.8,"y":1.35},{"p":"J=5/2","s":"MAT","x":15,"y":1.0},

{"p":"J=3","s":"TAC","x":0,"y":0.93},{"p":"J=3","s":"TAC","x":0.4,"y":0.68},{"p":"J=3","s":"TAC","x":1.05,"y":0.86},{"p":"J=3","s":"TAC","x":1.5,"y":0.78},{"p":"J=3","s":"TAC","x":2.0,"y":0.96},{"p":"J=3","s":"TAC","x":2.5,"y":0.8},{"p":"J=3","s":"TAC","x":3.0,"y":0.74},{"p":"J=3","s":"TAC","x":3.5,"y":0.92},{"p":"J=3","s":"TAC","x":3.95,"y":0.64},{"p":"J=3","s":"TAC","x":4.5,"y":0.93},{"p":"J=3","s":"TAC","x":5.0,"y":0.9},{"p":"J=3","s":"TAC","x":5.5,"y":0.8},{"p":"J=3","s":"TAC","x":5.95,"y":0.72},{"p":"J=3","s":"TAC","x":6.6,"y":0.95},{"p":"J=3","s":"TAC","x":7.1,"y":0.88},{"p":"J=3","s":"TAC","x":7.6,"y":0.82},{"p":"J=3","s":"TAC","x":8.1,"y":0.95},{"p":"J=3","s":"TAC","x":8.6,"y":0.9},{"p":"J=3","s":"TAC","x":9.05,"y":0.68},{"p":"J=3","s":"TAC","x":9.6,"y":0.95},{"p":"J=3","s":"TAC","x":10.1,"y":0.85},{"p":"J=3","s":"TAC","x":10.7,"y":0.72},{"p":"J=3","s":"TAC","x":11.2,"y":0.95},{"p":"J=3","s":"TAC","x":11.7,"y":0.8},{"p":"J=3","s":"TAC","x":12.2,"y":0.78},{"p":"J=3","s":"TAC","x":12.7,"y":0.92},{"p":"J=3","s":"TAC","x":13.2,"y":0.85},{"p":"J=3","s":"TAC","x":13.7,"y":0.63},{"p":"J=3","s":"TAC","x":14.3,"y":0.95},{"p":"J=3","s":"TAC","x":14.7,"y":0.8},{"p":"J=3","s":"TAC","x":15,"y":0.72},
{"p":"J=3","s":"OAT","x":0,"y":0.98},{"p":"J=3","s":"OAT","x":0.06,"y":0.5},{"p":"J=3","s":"OAT","x":0.14,"y":1},{"p":"J=3","s":"OAT","x":0.66,"y":1},{"p":"J=3","s":"OAT","x":0.78,"y":0.5},{"p":"J=3","s":"OAT","x":0.89,"y":0.92},{"p":"J=3","s":"OAT","x":1.0,"y":0.5},{"p":"J=3","s":"OAT","x":1.16,"y":1},{"p":"J=3","s":"OAT","x":1.68,"y":1},{"p":"J=3","s":"OAT","x":1.8,"y":0.5},{"p":"J=3","s":"OAT","x":1.91,"y":0.92},{"p":"J=3","s":"OAT","x":2.02,"y":0.5},{"p":"J=3","s":"OAT","x":2.18,"y":1},{"p":"J=3","s":"OAT","x":2.7,"y":1},{"p":"J=3","s":"OAT","x":2.82,"y":0.5},{"p":"J=3","s":"OAT","x":2.93,"y":0.92},{"p":"J=3","s":"OAT","x":3.04,"y":0.5},{"p":"J=3","s":"OAT","x":3.2,"y":1},{"p":"J=3","s":"OAT","x":3.72,"y":1},{"p":"J=3","s":"OAT","x":3.84,"y":0.5},{"p":"J=3","s":"OAT","x":3.95,"y":0.92},{"p":"J=3","s":"OAT","x":4.06,"y":0.5},{"p":"J=3","s":"OAT","x":4.22,"y":1},{"p":"J=3","s":"OAT","x":4.74,"y":1},{"p":"J=3","s":"OAT","x":4.86,"y":0.5},{"p":"J=3","s":"OAT","x":4.97,"y":0.92},{"p":"J=3","s":"OAT","x":5.08,"y":0.5},{"p":"J=3","s":"OAT","x":5.24,"y":1},{"p":"J=3","s":"OAT","x":5.76,"y":1},{"p":"J=3","s":"OAT","x":5.88,"y":0.5},{"p":"J=3","s":"OAT","x":5.99,"y":0.92},{"p":"J=3","s":"OAT","x":6.1,"y":0.5},{"p":"J=3","s":"OAT","x":6.26,"y":1},{"p":"J=3","s":"OAT","x":6.78,"y":1},{"p":"J=3","s":"OAT","x":6.9,"y":0.5},{"p":"J=3","s":"OAT","x":7.01,"y":0.92},{"p":"J=3","s":"OAT","x":7.12,"y":0.5},{"p":"J=3","s":"OAT","x":7.28,"y":1},{"p":"J=3","s":"OAT","x":7.8,"y":1},{"p":"J=3","s":"OAT","x":7.92,"y":0.5},{"p":"J=3","s":"OAT","x":8.03,"y":0.92},{"p":"J=3","s":"OAT","x":8.14,"y":0.5},{"p":"J=3","s":"OAT","x":8.3,"y":1},{"p":"J=3","s":"OAT","x":8.82,"y":1},{"p":"J=3","s":"OAT","x":8.94,"y":0.5},{"p":"J=3","s":"OAT","x":9.05,"y":0.92},{"p":"J=3","s":"OAT","x":9.16,"y":0.5},{"p":"J=3","s":"OAT","x":9.32,"y":1},{"p":"J=3","s":"OAT","x":9.84,"y":1},{"p":"J=3","s":"OAT","x":9.96,"y":0.5},{"p":"J=3","s":"OAT","x":10.07,"y":0.92},{"p":"J=3","s":"OAT","x":10.18,"y":0.5},{"p":"J=3","s":"OAT","x":10.34,"y":1},{"p":"J=3","s":"OAT","x":10.86,"y":1},{"p":"J=3","s":"OAT","x":10.98,"y":0.5},{"p":"J=3","s":"OAT","x":11.09,"y":0.92},{"p":"J=3","s":"OAT","x":11.2,"y":0.5},{"p":"J=3","s":"OAT","x":11.36,"y":1},{"p":"J=3","s":"OAT","x":11.88,"y":1},{"p":"J=3","s":"OAT","x":12.0,"y":0.5},{"p":"J=3","s":"OAT","x":12.11,"y":0.92},{"p":"J=3","s":"OAT","x":12.22,"y":0.5},{"p":"J=3","s":"OAT","x":12.38,"y":1},{"p":"J=3","s":"OAT","x":12.9,"y":1},{"p":"J=3","s":"OAT","x":13.02,"y":0.5},{"p":"J=3","s":"OAT","x":13.13,"y":0.92},{"p":"J=3","s":"OAT","x":13.24,"y":0.5},{"p":"J=3","s":"OAT","x":13.4,"y":1},{"p":"J=3","s":"OAT","x":13.92,"y":1},{"p":"J=3","s":"OAT","x":14.04,"y":0.5},{"p":"J=3","s":"OAT","x":14.15,"y":0.92},{"p":"J=3","s":"OAT","x":14.26,"y":0.5},{"p":"J=3","s":"OAT","x":14.42,"y":1},{"p":"J=3","s":"OAT","x":14.94,"y":1},{"p":"J=3","s":"OAT","x":15,"y":0.8},
{"p":"J=3","s":"MAT","x":0,"y":0.93},{"p":"J=3","s":"MAT","x":0.1,"y":0.47},{"p":"J=3","s":"MAT","x":0.42,"y":1.13},{"p":"J=3","s":"MAT","x":0.6,"y":0.8},{"p":"J=3","s":"MAT","x":0.8,"y":1.0},{"p":"J=3","s":"MAT","x":1.0,"y":0.46},{"p":"J=3","s":"MAT","x":1.25,"y":0.8},{"p":"J=3","s":"MAT","x":1.5,"y":1.05},{"p":"J=3","s":"MAT","x":1.7,"y":0.62},{"p":"J=3","s":"MAT","x":2.0,"y":1.12},{"p":"J=3","s":"MAT","x":2.2,"y":0.75},{"p":"J=3","s":"MAT","x":2.4,"y":0.95},{"p":"J=3","s":"MAT","x":2.7,"y":1.1},{"p":"J=3","s":"MAT","x":2.9,"y":0.65},{"p":"J=3","s":"MAT","x":3.2,"y":1.15},{"p":"J=3","s":"MAT","x":3.45,"y":0.8},{"p":"J=3","s":"MAT","x":3.65,"y":0.95},{"p":"J=3","s":"MAT","x":3.9,"y":1.1},{"p":"J=3","s":"MAT","x":4.1,"y":0.7},{"p":"J=3","s":"MAT","x":4.3,"y":1.17},{"p":"J=3","s":"MAT","x":4.55,"y":0.85},{"p":"J=3","s":"MAT","x":4.75,"y":0.95},{"p":"J=3","s":"MAT","x":5.1,"y":1.27},{"p":"J=3","s":"MAT","x":5.3,"y":0.9},{"p":"J=3","s":"MAT","x":5.5,"y":1.2},{"p":"J=3","s":"MAT","x":5.75,"y":0.8},{"p":"J=3","s":"MAT","x":6.0,"y":1.33},{"p":"J=3","s":"MAT","x":6.25,"y":0.9},{"p":"J=3","s":"MAT","x":6.5,"y":1.35},{"p":"J=3","s":"MAT","x":6.7,"y":0.9},{"p":"J=3","s":"MAT","x":6.9,"y":1.2},{"p":"J=3","s":"MAT","x":7.15,"y":0.85},{"p":"J=3","s":"MAT","x":7.5,"y":1.35},{"p":"J=3","s":"MAT","x":7.8,"y":0.95},{"p":"J=3","s":"MAT","x":8.07,"y":1.3},{"p":"J=3","s":"MAT","x":8.3,"y":0.85},{"p":"J=3","s":"MAT","x":8.56,"y":1.26},{"p":"J=3","s":"MAT","x":8.75,"y":0.9},{"p":"J=3","s":"MAT","x":8.95,"y":1.38},{"p":"J=3","s":"MAT","x":9.2,"y":0.95},{"p":"J=3","s":"MAT","x":9.5,"y":1.35},{"p":"J=3","s":"MAT","x":9.7,"y":0.85},{"p":"J=3","s":"MAT","x":9.9,"y":1.39},{"p":"J=3","s":"MAT","x":10.15,"y":0.9},{"p":"J=3","s":"MAT","x":10.4,"y":1.33},{"p":"J=3","s":"MAT","x":10.6,"y":0.85},{"p":"J=3","s":"MAT","x":10.8,"y":1.32},{"p":"J=3","s":"MAT","x":11.05,"y":0.9},{"p":"J=3","s":"MAT","x":11.3,"y":1.25},{"p":"J=3","s":"MAT","x":11.55,"y":0.85},{"p":"J=3","s":"MAT","x":11.8,"y":1.2},{"p":"J=3","s":"MAT","x":12.05,"y":0.75},{"p":"J=3","s":"MAT","x":12.35,"y":1.22},{"p":"J=3","s":"MAT","x":12.55,"y":0.8},{"p":"J=3","s":"MAT","x":12.8,"y":1.2},{"p":"J=3","s":"MAT","x":13.05,"y":0.85},{"p":"J=3","s":"MAT","x":13.3,"y":1.15},{"p":"J=3","s":"MAT","x":13.55,"y":0.7},{"p":"J=3","s":"MAT","x":13.8,"y":1.15},{"p":"J=3","s":"MAT","x":14.05,"y":0.8},{"p":"J=3","s":"MAT","x":14.35,"y":0.6},{"p":"J=3","s":"MAT","x":14.7,"y":1.1},{"p":"J=3","s":"MAT","x":15,"y":0.95},

{"p":"J=7/2","s":"TAC","x":0,"y":0.97},{"p":"J=7/2","s":"TAC","x":0.4,"y":0.7},{"p":"J=7/2","s":"TAC","x":0.92,"y":0.93},{"p":"J=7/2","s":"TAC","x":1.42,"y":0.7},{"p":"J=7/2","s":"TAC","x":1.94,"y":0.93},{"p":"J=7/2","s":"TAC","x":2.44,"y":0.7},{"p":"J=7/2","s":"TAC","x":2.96,"y":0.93},{"p":"J=7/2","s":"TAC","x":3.46,"y":0.7},{"p":"J=7/2","s":"TAC","x":3.98,"y":0.93},{"p":"J=7/2","s":"TAC","x":4.48,"y":0.7},{"p":"J=7/2","s":"TAC","x":5.0,"y":0.93},{"p":"J=7/2","s":"TAC","x":5.5,"y":0.7},{"p":"J=7/2","s":"TAC","x":6.02,"y":0.93},{"p":"J=7/2","s":"TAC","x":6.52,"y":0.7},{"p":"J=7/2","s":"TAC","x":7.04,"y":0.93},{"p":"J=7/2","s":"TAC","x":7.54,"y":0.7},{"p":"J=7/2","s":"TAC","x":8.06,"y":0.93},{"p":"J=7/2","s":"TAC","x":8.56,"y":0.7},{"p":"J=7/2","s":"TAC","x":9.08,"y":0.93},{"p":"J=7/2","s":"TAC","x":9.58,"y":0.7},{"p":"J=7/2","s":"TAC","x":10.1,"y":0.93},{"p":"J=7/2","s":"TAC","x":10.6,"y":0.7},{"p":"J=7/2","s":"TAC","x":11.12,"y":0.93},{"p":"J=7/2","s":"TAC","x":11.62,"y":0.7},{"p":"J=7/2","s":"TAC","x":12.14,"y":0.93},{"p":"J=7/2","s":"TAC","x":12.64,"y":0.7},{"p":"J=7/2","s":"TAC","x":13.16,"y":0.93},{"p":"J=7/2","s":"TAC","x":13.66,"y":0.7},{"p":"J=7/2","s":"TAC","x":14.18,"y":0.93},{"p":"J=7/2","s":"TAC","x":14.68,"y":0.7},{"p":"J=7/2","s":"TAC","x":15,"y":0.76},
{"p":"J=7/2","s":"OAT","x":0,"y":0.98},{"p":"J=7/2","s":"OAT","x":0.06,"y":0.48},{"p":"J=7/2","s":"OAT","x":0.14,"y":1},{"p":"J=7/2","s":"OAT","x":0.66,"y":1},{"p":"J=7/2","s":"OAT","x":0.78,"y":0.48},{"p":"J=7/2","s":"OAT","x":0.89,"y":0.92},{"p":"J=7/2","s":"OAT","x":1.0,"y":0.48},{"p":"J=7/2","s":"OAT","x":1.16,"y":1},{"p":"J=7/2","s":"OAT","x":1.68,"y":1},{"p":"J=7/2","s":"OAT","x":1.8,"y":0.48},{"p":"J=7/2","s":"OAT","x":1.91,"y":0.92},{"p":"J=7/2","s":"OAT","x":2.02,"y":0.48},{"p":"J=7/2","s":"OAT","x":2.18,"y":1},{"p":"J=7/2","s":"OAT","x":2.7,"y":1},{"p":"J=7/2","s":"OAT","x":2.82,"y":0.48},{"p":"J=7/2","s":"OAT","x":2.93,"y":0.92},{"p":"J=7/2","s":"OAT","x":3.04,"y":0.48},{"p":"J=7/2","s":"OAT","x":3.2,"y":1},{"p":"J=7/2","s":"OAT","x":3.72,"y":1},{"p":"J=7/2","s":"OAT","x":3.84,"y":0.48},{"p":"J=7/2","s":"OAT","x":3.95,"y":0.92},{"p":"J=7/2","s":"OAT","x":4.06,"y":0.48},{"p":"J=7/2","s":"OAT","x":4.22,"y":1},{"p":"J=7/2","s":"OAT","x":4.74,"y":1},{"p":"J=7/2","s":"OAT","x":4.86,"y":0.48},{"p":"J=7/2","s":"OAT","x":4.97,"y":0.92},{"p":"J=7/2","s":"OAT","x":5.08,"y":0.48},{"p":"J=7/2","s":"OAT","x":5.24,"y":1},{"p":"J=7/2","s":"OAT","x":5.76,"y":1},{"p":"J=7/2","s":"OAT","x":5.88,"y":0.48},{"p":"J=7/2","s":"OAT","x":5.99,"y":0.92},{"p":"J=7/2","s":"OAT","x":6.1,"y":0.48},{"p":"J=7/2","s":"OAT","x":6.26,"y":1},{"p":"J=7/2","s":"OAT","x":6.78,"y":1},{"p":"J=7/2","s":"OAT","x":6.9,"y":0.48},{"p":"J=7/2","s":"OAT","x":7.01,"y":0.92},{"p":"J=7/2","s":"OAT","x":7.12,"y":0.48},{"p":"J=7/2","s":"OAT","x":7.28,"y":1},{"p":"J=7/2","s":"OAT","x":7.8,"y":1},{"p":"J=7/2","s":"OAT","x":7.92,"y":0.48},{"p":"J=7/2","s":"OAT","x":8.03,"y":0.92},{"p":"J=7/2","s":"OAT","x":8.14,"y":0.48},{"p":"J=7/2","s":"OAT","x":8.3,"y":1},{"p":"J=7/2","s":"OAT","x":8.82,"y":1},{"p":"J=7/2","s":"OAT","x":8.94,"y":0.48},{"p":"J=7/2","s":"OAT","x":9.05,"y":0.92},{"p":"J=7/2","s":"OAT","x":9.16,"y":0.48},{"p":"J=7/2","s":"OAT","x":9.32,"y":1},{"p":"J=7/2","s":"OAT","x":9.84,"y":1},{"p":"J=7/2","s":"OAT","x":9.96,"y":0.48},{"p":"J=7/2","s":"OAT","x":10.07,"y":0.92},{"p":"J=7/2","s":"OAT","x":10.18,"y":0.48},{"p":"J=7/2","s":"OAT","x":10.34,"y":1},{"p":"J=7/2","s":"OAT","x":10.86,"y":1},{"p":"J=7/2","s":"OAT","x":10.98,"y":0.48},{"p":"J=7/2","s":"OAT","x":11.09,"y":0.92},{"p":"J=7/2","s":"OAT","x":11.2,"y":0.48},{"p":"J=7/2","s":"OAT","x":11.36,"y":1},{"p":"J=7/2","s":"OAT","x":11.88,"y":1},{"p":"J=7/2","s":"OAT","x":12.0,"y":0.48},{"p":"J=7/2","s":"OAT","x":12.11,"y":0.92},{"p":"J=7/2","s":"OAT","x":12.22,"y":0.48},{"p":"J=7/2","s":"OAT","x":12.38,"y":1},{"p":"J=7/2","s":"OAT","x":12.9,"y":1},{"p":"J=7/2","s":"OAT","x":13.02,"y":0.48},{"p":"J=7/2","s":"OAT","x":13.13,"y":0.92},{"p":"J=7/2","s":"OAT","x":13.24,"y":0.48},{"p":"J=7/2","s":"OAT","x":13.4,"y":1},{"p":"J=7/2","s":"OAT","x":13.92,"y":1},{"p":"J=7/2","s":"OAT","x":14.04,"y":0.48},{"p":"J=7/2","s":"OAT","x":14.15,"y":0.92},{"p":"J=7/2","s":"OAT","x":14.26,"y":0.48},{"p":"J=7/2","s":"OAT","x":14.42,"y":1},{"p":"J=7/2","s":"OAT","x":14.94,"y":1},{"p":"J=7/2","s":"OAT","x":15,"y":0.8},
{"p":"J=7/2","s":"MAT","x":0,"y":0.6},{"p":"J=7/2","s":"MAT","x":0.05,"y":0.45},{"p":"J=7/2","s":"MAT","x":0.25,"y":1.45},{"p":"J=7/2","s":"MAT","x":0.4,"y":0.9},{"p":"J=7/2","s":"MAT","x":0.55,"y":1.05},{"p":"J=7/2","s":"MAT","x":0.7,"y":0.6},{"p":"J=7/2","s":"MAT","x":0.9,"y":1.4},{"p":"J=7/2","s":"MAT","x":1.05,"y":1.1},{"p":"J=7/2","s":"MAT","x":1.2,"y":1.35},{"p":"J=7/2","s":"MAT","x":1.35,"y":0.9},{"p":"J=7/2","s":"MAT","x":1.5,"y":1.3},{"p":"J=7/2","s":"MAT","x":1.65,"y":1.38},{"p":"J=7/2","s":"MAT","x":1.8,"y":1.2},{"p":"J=7/2","s":"MAT","x":1.95,"y":1.4},{"p":"J=7/2","s":"MAT","x":2.1,"y":1.1},{"p":"J=7/2","s":"MAT","x":2.25,"y":1.3},{"p":"J=7/2","s":"MAT","x":2.4,"y":1.2},{"p":"J=7/2","s":"MAT","x":2.55,"y":1.35},{"p":"J=7/2","s":"MAT","x":2.7,"y":0.95},{"p":"J=7/2","s":"MAT","x":2.85,"y":1.25},{"p":"J=7/2","s":"MAT","x":3.0,"y":1.0},{"p":"J=7/2","s":"MAT","x":3.15,"y":1.3},{"p":"J=7/2","s":"MAT","x":3.3,"y":0.85},{"p":"J=7/2","s":"MAT","x":3.5,"y":1.42},{"p":"J=7/2","s":"MAT","x":3.65,"y":1.0},{"p":"J=7/2","s":"MAT","x":3.8,"y":0.7},{"p":"J=7/2","s":"MAT","x":3.95,"y":1.3},{"p":"J=7/2","s":"MAT","x":4.1,"y":1.0},{"p":"J=7/2","s":"MAT","x":4.25,"y":0.75},{"p":"J=7/2","s":"MAT","x":4.4,"y":1.0},{"p":"J=7/2","s":"MAT","x":4.55,"y":0.6},{"p":"J=7/2","s":"MAT","x":4.75,"y":1.35},{"p":"J=7/2","s":"MAT","x":4.9,"y":0.8},{"p":"J=7/2","s":"MAT","x":5.05,"y":0.55},{"p":"J=7/2","s":"MAT","x":5.2,"y":1.2},{"p":"J=7/2","s":"MAT","x":5.35,"y":1.48},{"p":"J=7/2","s":"MAT","x":5.5,"y":0.8},{"p":"J=7/2","s":"MAT","x":5.65,"y":1.05},{"p":"J=7/2","s":"MAT","x":5.8,"y":0.7},{"p":"J=7/2","s":"MAT","x":5.95,"y":1.4},{"p":"J=7/2","s":"MAT","x":6.1,"y":1.1},{"p":"J=7/2","s":"MAT","x":6.3,"y":0.6},{"p":"J=7/2","s":"MAT","x":6.5,"y":0.75},{"p":"J=7/2","s":"MAT","x":6.7,"y":1.2},{"p":"J=7/2","s":"MAT","x":6.85,"y":1.35},{"p":"J=7/2","s":"MAT","x":7.0,"y":0.9},{"p":"J=7/2","s":"MAT","x":7.15,"y":1.25},{"p":"J=7/2","s":"MAT","x":7.3,"y":1.2},{"p":"J=7/2","s":"MAT","x":7.45,"y":1.3},{"p":"J=7/2","s":"MAT","x":7.6,"y":1.15},{"p":"J=7/2","s":"MAT","x":7.75,"y":1.4},{"p":"J=7/2","s":"MAT","x":7.9,"y":1.2},{"p":"J=7/2","s":"MAT","x":8.05,"y":1.35},{"p":"J=7/2","s":"MAT","x":8.2,"y":1.1},{"p":"J=7/2","s":"MAT","x":8.35,"y":1.3},{"p":"J=7/2","s":"MAT","x":8.5,"y":1.15},{"p":"J=7/2","s":"MAT","x":8.65,"y":1.45},{"p":"J=7/2","s":"MAT","x":8.8,"y":1.1},{"p":"J=7/2","s":"MAT","x":8.95,"y":1.4},{"p":"J=7/2","s":"MAT","x":9.1,"y":1.15},{"p":"J=7/2","s":"MAT","x":9.25,"y":1.3},{"p":"J=7/2","s":"MAT","x":9.4,"y":0.9},{"p":"J=7/2","s":"MAT","x":9.55,"y":1.25},{"p":"J=7/2","s":"MAT","x":9.7,"y":1.45},{"p":"J=7/2","s":"MAT","x":9.85,"y":0.75},{"p":"J=7/2","s":"MAT","x":10.0,"y":0.95},{"p":"J=7/2","s":"MAT","x":10.15,"y":0.65},{"p":"J=7/2","s":"MAT","x":10.3,"y":1.35},{"p":"J=7/2","s":"MAT","x":10.45,"y":0.8},{"p":"J=7/2","s":"MAT","x":10.6,"y":0.45},{"p":"J=7/2","s":"MAT","x":10.75,"y":0.5},{"p":"J=7/2","s":"MAT","x":10.9,"y":1.45},{"p":"J=7/2","s":"MAT","x":11.05,"y":1.1},{"p":"J=7/2","s":"MAT","x":11.2,"y":1.25},{"p":"J=7/2","s":"MAT","x":11.35,"y":0.95},{"p":"J=7/2","s":"MAT","x":11.5,"y":1.45},{"p":"J=7/2","s":"MAT","x":11.65,"y":1.0},{"p":"J=7/2","s":"MAT","x":11.8,"y":0.85},{"p":"J=7/2","s":"MAT","x":12.0,"y":1.05},{"p":"J=7/2","s":"MAT","x":12.15,"y":0.75},{"p":"J=7/2","s":"MAT","x":12.3,"y":1.35},{"p":"J=7/2","s":"MAT","x":12.45,"y":1.4},{"p":"J=7/2","s":"MAT","x":12.6,"y":1.2},{"p":"J=7/2","s":"MAT","x":12.75,"y":1.35},{"p":"J=7/2","s":"MAT","x":12.9,"y":1.05},{"p":"J=7/2","s":"MAT","x":13.05,"y":1.3},{"p":"J=7/2","s":"MAT","x":13.2,"y":1.25},{"p":"J=7/2","s":"MAT","x":13.35,"y":1.35},{"p":"J=7/2","s":"MAT","x":13.5,"y":1.1},{"p":"J=7/2","s":"MAT","x":13.65,"y":1.3},{"p":"J=7/2","s":"MAT","x":13.8,"y":1.15},{"p":"J=7/2","s":"MAT","x":13.95,"y":1.2},{"p":"J=7/2","s":"MAT","x":14.1,"y":1.05},{"p":"J=7/2","s":"MAT","x":14.25,"y":1.35},{"p":"J=7/2","s":"MAT","x":14.4,"y":1.1},{"p":"J=7/2","s":"MAT","x":14.55,"y":1.2},{"p":"J=7/2","s":"MAT","x":14.7,"y":1.05},{"p":"J=7/2","s":"MAT","x":14.85,"y":1.4},{"p":"J=7/2","s":"MAT","x":15,"y":1.0},

{"p":"J=4","s":"TAC","x":0,"y":0.97},{"p":"J=4","s":"TAC","x":0.4,"y":0.68},{"p":"J=4","s":"TAC","x":1.0,"y":0.9},{"p":"J=4","s":"TAC","x":1.5,"y":0.78},{"p":"J=4","s":"TAC","x":2.0,"y":0.86},{"p":"J=4","s":"TAC","x":2.45,"y":0.7},{"p":"J=4","s":"TAC","x":3.0,"y":0.92},{"p":"J=4","s":"TAC","x":3.5,"y":0.76},{"p":"J=4","s":"TAC","x":4.0,"y":0.87},{"p":"J=4","s":"TAC","x":4.5,"y":0.75},{"p":"J=4","s":"TAC","x":5.0,"y":0.87},{"p":"J=4","s":"TAC","x":5.5,"y":0.74},{"p":"J=4","s":"TAC","x":6.0,"y":0.9},{"p":"J=4","s":"TAC","x":6.5,"y":0.73},{"p":"J=4","s":"TAC","x":7.0,"y":0.87},{"p":"J=4","s":"TAC","x":7.5,"y":0.8},{"p":"J=4","s":"TAC","x":8.0,"y":0.85},{"p":"J=4","s":"TAC","x":8.5,"y":0.74},{"p":"J=4","s":"TAC","x":9.0,"y":0.9},{"p":"J=4","s":"TAC","x":9.5,"y":0.73},{"p":"J=4","s":"TAC","x":10.0,"y":0.84},{"p":"J=4","s":"TAC","x":10.5,"y":0.78},{"p":"J=4","s":"TAC","x":11.0,"y":0.88},{"p":"J=4","s":"TAC","x":11.5,"y":0.72},{"p":"J=4","s":"TAC","x":12.0,"y":0.85},{"p":"J=4","s":"TAC","x":12.5,"y":0.76},{"p":"J=4","s":"TAC","x":13.0,"y":0.9},{"p":"J=4","s":"TAC","x":13.5,"y":0.74},{"p":"J=4","s":"TAC","x":14.0,"y":0.88},{"p":"J=4","s":"TAC","x":14.5,"y":0.75},{"p":"J=4","s":"TAC","x":15,"y":0.8},
{"p":"J=4","s":"OAT","x":0,"y":0.98},{"p":"J=4","s":"OAT","x":0.06,"y":0.47},{"p":"J=4","s":"OAT","x":0.14,"y":1},{"p":"J=4","s":"OAT","x":0.66,"y":1},{"p":"J=4","s":"OAT","x":0.78,"y":0.47},{"p":"J=4","s":"OAT","x":0.89,"y":0.92},{"p":"J=4","s":"OAT","x":1.0,"y":0.47},{"p":"J=4","s":"OAT","x":1.16,"y":1},{"p":"J=4","s":"OAT","x":1.68,"y":1},{"p":"J=4","s":"OAT","x":1.8,"y":0.47},{"p":"J=4","s":"OAT","x":1.91,"y":0.92},{"p":"J=4","s":"OAT","x":2.02,"y":0.47},{"p":"J=4","s":"OAT","x":2.18,"y":1},{"p":"J=4","s":"OAT","x":2.7,"y":1},{"p":"J=4","s":"OAT","x":2.82,"y":0.47},{"p":"J=4","s":"OAT","x":2.93,"y":0.92},{"p":"J=4","s":"OAT","x":3.04,"y":0.47},{"p":"J=4","s":"OAT","x":3.2,"y":1},{"p":"J=4","s":"OAT","x":3.72,"y":1},{"p":"J=4","s":"OAT","x":3.84,"y":0.47},{"p":"J=4","s":"OAT","x":3.95,"y":0.92},{"p":"J=4","s":"OAT","x":4.06,"y":0.47},{"p":"J=4","s":"OAT","x":4.22,"y":1},{"p":"J=4","s":"OAT","x":4.74,"y":1},{"p":"J=4","s":"OAT","x":4.86,"y":0.47},{"p":"J=4","s":"OAT","x":4.97,"y":0.92},{"p":"J=4","s":"OAT","x":5.08,"y":0.47},{"p":"J=4","s":"OAT","x":5.24,"y":1},{"p":"J=4","s":"OAT","x":5.76,"y":1},{"p":"J=4","s":"OAT","x":5.88,"y":0.47},{"p":"J=4","s":"OAT","x":5.99,"y":0.92},{"p":"J=4","s":"OAT","x":6.1,"y":0.47},{"p":"J=4","s":"OAT","x":6.26,"y":1},{"p":"J=4","s":"OAT","x":6.78,"y":1},{"p":"J=4","s":"OAT","x":6.9,"y":0.47},{"p":"J=4","s":"OAT","x":7.01,"y":0.92},{"p":"J=4","s":"OAT","x":7.12,"y":0.47},{"p":"J=4","s":"OAT","x":7.28,"y":1},{"p":"J=4","s":"OAT","x":7.8,"y":1},{"p":"J=4","s":"OAT","x":7.92,"y":0.47},{"p":"J=4","s":"OAT","x":8.03,"y":0.92},{"p":"J=4","s":"OAT","x":8.14,"y":0.47},{"p":"J=4","s":"OAT","x":8.3,"y":1},{"p":"J=4","s":"OAT","x":8.82,"y":1},{"p":"J=4","s":"OAT","x":8.94,"y":0.47},{"p":"J=4","s":"OAT","x":9.05,"y":0.92},{"p":"J=4","s":"OAT","x":9.16,"y":0.47},{"p":"J=4","s":"OAT","x":9.32,"y":1},{"p":"J=4","s":"OAT","x":9.84,"y":1},{"p":"J=4","s":"OAT","x":9.96,"y":0.47},{"p":"J=4","s":"OAT","x":10.07,"y":0.92},{"p":"J=4","s":"OAT","x":10.18,"y":0.47},{"p":"J=4","s":"OAT","x":10.34,"y":1},{"p":"J=4","s":"OAT","x":10.86,"y":1},{"p":"J=4","s":"OAT","x":10.98,"y":0.47},{"p":"J=4","s":"OAT","x":11.09,"y":0.92},{"p":"J=4","s":"OAT","x":11.2,"y":0.47},{"p":"J=4","s":"OAT","x":11.36,"y":1},{"p":"J=4","s":"OAT","x":11.88,"y":1},{"p":"J=4","s":"OAT","x":12.0,"y":0.47},{"p":"J=4","s":"OAT","x":12.11,"y":0.92},{"p":"J=4","s":"OAT","x":12.22,"y":0.47},{"p":"J=4","s":"OAT","x":12.38,"y":1},{"p":"J=4","s":"OAT","x":12.9,"y":1},{"p":"J=4","s":"OAT","x":13.02,"y":0.47},{"p":"J=4","s":"OAT","x":13.13,"y":0.92},{"p":"J=4","s":"OAT","x":13.24,"y":0.47},{"p":"J=4","s":"OAT","x":13.4,"y":1},{"p":"J=4","s":"OAT","x":13.92,"y":1},{"p":"J=4","s":"OAT","x":14.04,"y":0.47},{"p":"J=4","s":"OAT","x":14.15,"y":0.92},{"p":"J=4","s":"OAT","x":14.26,"y":0.47},{"p":"J=4","s":"OAT","x":14.42,"y":1},{"p":"J=4","s":"OAT","x":14.94,"y":1},{"p":"J=4","s":"OAT","x":15,"y":0.8},
{"p":"J=4","s":"MAT","x":0,"y":0.6},{"p":"J=4","s":"MAT","x":0.05,"y":0.42},{"p":"J=4","s":"MAT","x":0.25,"y":0.95},{"p":"J=4","s":"MAT","x":0.45,"y":1.2},{"p":"J=4","s":"MAT","x":0.6,"y":1.15},{"p":"J=4","s":"MAT","x":0.73,"y":1.3},{"p":"J=4","s":"MAT","x":0.9,"y":1.05},{"p":"J=4","s":"MAT","x":1.05,"y":0.9},{"p":"J=4","s":"MAT","x":1.2,"y":1.1},{"p":"J=4","s":"MAT","x":1.4,"y":1.35},{"p":"J=4","s":"MAT","x":1.52,"y":1.0},{"p":"J=4","s":"MAT","x":1.66,"y":1.42},{"p":"J=4","s":"MAT","x":1.8,"y":1.0},{"p":"J=4","s":"MAT","x":1.95,"y":0.7},{"p":"J=4","s":"MAT","x":2.1,"y":0.85},{"p":"J=4","s":"MAT","x":2.3,"y":0.5},{"p":"J=4","s":"MAT","x":2.45,"y":0.6},{"p":"J=4","s":"MAT","x":2.55,"y":0.5},{"p":"J=4","s":"MAT","x":2.75,"y":1.0},{"p":"J=4","s":"MAT","x":2.93,"y":1.37},{"p":"J=4","s":"MAT","x":3.1,"y":1.1},{"p":"J=4","s":"MAT","x":3.25,"y":1.2},{"p":"J=4","s":"MAT","x":3.4,"y":0.9},{"p":"J=4","s":"MAT","x":3.55,"y":1.05},{"p":"J=4","s":"MAT","x":3.75,"y":0.8},{"p":"J=4","s":"MAT","x":3.96,"y":1.45},{"p":"J=4","s":"MAT","x":4.1,"y":1.15},{"p":"J=4","s":"MAT","x":4.3,"y":1.2},{"p":"J=4","s":"MAT","x":4.5,"y":1.3},{"p":"J=4","s":"MAT","x":4.7,"y":0.65},{"p":"J=4","s":"MAT","x":4.9,"y":1.0},{"p":"J=4","s":"MAT","x":5.1,"y":1.37},{"p":"J=4","s":"MAT","x":5.3,"y":1.05},{"p":"J=4","s":"MAT","x":5.5,"y":1.15},{"p":"J=4","s":"MAT","x":5.7,"y":0.85},{"p":"J=4","s":"MAT","x":5.9,"y":1.45},{"p":"J=4","s":"MAT","x":6.05,"y":1.1},{"p":"J=4","s":"MAT","x":6.2,"y":0.9},{"p":"J=4","s":"MAT","x":6.35,"y":1.05},{"p":"J=4","s":"MAT","x":6.5,"y":1.3},{"p":"J=4","s":"MAT","x":6.65,"y":0.95},{"p":"J=4","s":"MAT","x":6.9,"y":1.4},{"p":"J=4","s":"MAT","x":7.05,"y":1.0},{"p":"J=4","s":"MAT","x":7.2,"y":0.85},{"p":"J=4","s":"MAT","x":7.4,"y":1.1},{"p":"J=4","s":"MAT","x":7.55,"y":0.9},{"p":"J=4","s":"MAT","x":7.75,"y":1.1},{"p":"J=4","s":"MAT","x":7.9,"y":1.3},{"p":"J=4","s":"MAT","x":8.1,"y":1.05},{"p":"J=4","s":"MAT","x":8.25,"y":1.2},{"p":"J=4","s":"MAT","x":8.4,"y":0.9},{"p":"J=4","s":"MAT","x":8.6,"y":1.45},{"p":"J=4","s":"MAT","x":8.75,"y":1.1},{"p":"J=4","s":"MAT","x":8.9,"y":1.2},{"p":"J=4","s":"MAT","x":9.05,"y":0.95},{"p":"J=4","s":"MAT","x":9.2,"y":1.05},{"p":"J=4","s":"MAT","x":9.4,"y":0.85},{"p":"J=4","s":"MAT","x":9.6,"y":0.52},{"p":"J=4","s":"MAT","x":9.75,"y":1.28},{"p":"J=4","s":"MAT","x":9.9,"y":1.1},{"p":"J=4","s":"MAT","x":10.05,"y":1.2},{"p":"J=4","s":"MAT","x":10.2,"y":1.0},{"p":"J=4","s":"MAT","x":10.4,"y":0.85},{"p":"J=4","s":"MAT","x":10.6,"y":1.45},{"p":"J=4","s":"MAT","x":10.75,"y":1.1},{"p":"J=4","s":"MAT","x":10.9,"y":1.2},{"p":"J=4","s":"MAT","x":11.05,"y":1.37},{"p":"J=4","s":"MAT","x":11.2,"y":1.0},{"p":"J=4","s":"MAT","x":11.35,"y":1.15},{"p":"J=4","s":"MAT","x":11.5,"y":0.9},{"p":"J=4","s":"MAT","x":11.7,"y":1.45},{"p":"J=4","s":"MAT","x":11.85,"y":0.5},{"p":"J=4","s":"MAT","x":12.0,"y":0.8},{"p":"J=4","s":"MAT","x":12.2,"y":1.1},{"p":"J=4","s":"MAT","x":12.4,"y":1.0},{"p":"J=4","s":"MAT","x":12.6,"y":1.35},{"p":"J=4","s":"MAT","x":12.75,"y":1.05},{"p":"J=4","s":"MAT","x":12.9,"y":1.2},{"p":"J=4","s":"MAT","x":13.1,"y":0.85},{"p":"J=4","s":"MAT","x":13.3,"y":1.1},{"p":"J=4","s":"MAT","x":13.5,"y":1.42},{"p":"J=4","s":"MAT","x":13.7,"y":0.95},{"p":"J=4","s":"MAT","x":13.9,"y":1.25},{"p":"J=4","s":"MAT","x":14.1,"y":0.8},{"p":"J=4","s":"MAT","x":14.3,"y":0.6},{"p":"J=4","s":"MAT","x":14.5,"y":1.0},{"p":"J=4","s":"MAT","x":14.7,"y":1.35},{"p":"J=4","s":"MAT","x":14.85,"y":1.1},{"p":"J=4","s":"MAT","x":15,"y":1.25},

{"p":"J=9/2","s":"TAC","x":0,"y":0.97},{"p":"J=9/2","s":"TAC","x":0.4,"y":0.7},{"p":"J=9/2","s":"TAC","x":0.92,"y":0.95},{"p":"J=9/2","s":"TAC","x":1.42,"y":0.7},{"p":"J=9/2","s":"TAC","x":1.94,"y":0.95},{"p":"J=9/2","s":"TAC","x":2.44,"y":0.7},{"p":"J=9/2","s":"TAC","x":2.96,"y":0.95},{"p":"J=9/2","s":"TAC","x":3.46,"y":0.7},{"p":"J=9/2","s":"TAC","x":3.98,"y":0.95},{"p":"J=9/2","s":"TAC","x":4.48,"y":0.7},{"p":"J=9/2","s":"TAC","x":5.0,"y":0.95},{"p":"J=9/2","s":"TAC","x":5.5,"y":0.7},{"p":"J=9/2","s":"TAC","x":6.02,"y":0.95},{"p":"J=9/2","s":"TAC","x":6.52,"y":0.7},{"p":"J=9/2","s":"TAC","x":7.04,"y":0.95},{"p":"J=9/2","s":"TAC","x":7.54,"y":0.7},{"p":"J=9/2","s":"TAC","x":8.06,"y":0.95},{"p":"J=9/2","s":"TAC","x":8.56,"y":0.7},{"p":"J=9/2","s":"TAC","x":9.08,"y":0.95},{"p":"J=9/2","s":"TAC","x":9.58,"y":0.7},{"p":"J=9/2","s":"TAC","x":10.1,"y":0.95},{"p":"J=9/2","s":"TAC","x":10.6,"y":0.7},{"p":"J=9/2","s":"TAC","x":11.12,"y":0.95},{"p":"J=9/2","s":"TAC","x":11.62,"y":0.7},{"p":"J=9/2","s":"TAC","x":12.14,"y":0.95},{"p":"J=9/2","s":"TAC","x":12.64,"y":0.7},{"p":"J=9/2","s":"TAC","x":13.16,"y":0.95},{"p":"J=9/2","s":"TAC","x":13.66,"y":0.7},{"p":"J=9/2","s":"TAC","x":14.18,"y":0.95},{"p":"J=9/2","s":"TAC","x":14.68,"y":0.7},{"p":"J=9/2","s":"TAC","x":15,"y":0.77},
{"p":"J=9/2","s":"OAT","x":0,"y":0.98},{"p":"J=9/2","s":"OAT","x":0.06,"y":0.45},{"p":"J=9/2","s":"OAT","x":0.14,"y":1},{"p":"J=9/2","s":"OAT","x":0.66,"y":1},{"p":"J=9/2","s":"OAT","x":0.78,"y":0.45},{"p":"J=9/2","s":"OAT","x":0.89,"y":0.92},{"p":"J=9/2","s":"OAT","x":1.0,"y":0.45},{"p":"J=9/2","s":"OAT","x":1.16,"y":1},{"p":"J=9/2","s":"OAT","x":1.68,"y":1},{"p":"J=9/2","s":"OAT","x":1.8,"y":0.45},{"p":"J=9/2","s":"OAT","x":1.91,"y":0.92},{"p":"J=9/2","s":"OAT","x":2.02,"y":0.45},{"p":"J=9/2","s":"OAT","x":2.18,"y":1},{"p":"J=9/2","s":"OAT","x":2.7,"y":1},{"p":"J=9/2","s":"OAT","x":2.82,"y":0.45},{"p":"J=9/2","s":"OAT","x":2.93,"y":0.92},{"p":"J=9/2","s":"OAT","x":3.04,"y":0.45},{"p":"J=9/2","s":"OAT","x":3.2,"y":1},{"p":"J=9/2","s":"OAT","x":3.72,"y":1},{"p":"J=9/2","s":"OAT","x":3.84,"y":0.45},{"p":"J=9/2","s":"OAT","x":3.95,"y":0.92},{"p":"J=9/2","s":"OAT","x":4.06,"y":0.45},{"p":"J=9/2","s":"OAT","x":4.22,"y":1},{"p":"J=9/2","s":"OAT","x":4.74,"y":1},{"p":"J=9/2","s":"OAT","x":4.86,"y":0.45},{"p":"J=9/2","s":"OAT","x":4.97,"y":0.92},{"p":"J=9/2","s":"OAT","x":5.08,"y":0.45},{"p":"J=9/2","s":"OAT","x":5.24,"y":1},{"p":"J=9/2","s":"OAT","x":5.76,"y":1},{"p":"J=9/2","s":"OAT","x":5.88,"y":0.45},{"p":"J=9/2","s":"OAT","x":5.99,"y":0.92},{"p":"J=9/2","s":"OAT","x":6.1,"y":0.45},{"p":"J=9/2","s":"OAT","x":6.26,"y":1},{"p":"J=9/2","s":"OAT","x":6.78,"y":1},{"p":"J=9/2","s":"OAT","x":6.9,"y":0.45},{"p":"J=9/2","s":"OAT","x":7.01,"y":0.92},{"p":"J=9/2","s":"OAT","x":7.12,"y":0.45},{"p":"J=9/2","s":"OAT","x":7.28,"y":1},{"p":"J=9/2","s":"OAT","x":7.8,"y":1},{"p":"J=9/2","s":"OAT","x":7.92,"y":0.45},{"p":"J=9/2","s":"OAT","x":8.03,"y":0.92},{"p":"J=9/2","s":"OAT","x":8.14,"y":0.45},{"p":"J=9/2","s":"OAT","x":8.3,"y":1},{"p":"J=9/2","s":"OAT","x":8.82,"y":1},{"p":"J=9/2","s":"OAT","x":8.94,"y":0.45},{"p":"J=9/2","s":"OAT","x":9.05,"y":0.92},{"p":"J=9/2","s":"OAT","x":9.16,"y":0.45},{"p":"J=9/2","s":"OAT","x":9.32,"y":1},{"p":"J=9/2","s":"OAT","x":9.84,"y":1},{"p":"J=9/2","s":"OAT","x":9.96,"y":0.45},{"p":"J=9/2","s":"OAT","x":10.07,"y":0.92},{"p":"J=9/2","s":"OAT","x":10.18,"y":0.45},{"p":"J=9/2","s":"OAT","x":10.34,"y":1},{"p":"J=9/2","s":"OAT","x":10.86,"y":1},{"p":"J=9/2","s":"OAT","x":10.98,"y":0.45},{"p":"J=9/2","s":"OAT","x":11.09,"y":0.92},{"p":"J=9/2","s":"OAT","x":11.2,"y":0.45},{"p":"J=9/2","s":"OAT","x":11.36,"y":1},{"p":"J=9/2","s":"OAT","x":11.88,"y":1},{"p":"J=9/2","s":"OAT","x":12.0,"y":0.45},{"p":"J=9/2","s":"OAT","x":12.11,"y":0.92},{"p":"J=9/2","s":"OAT","x":12.22,"y":0.45},{"p":"J=9/2","s":"OAT","x":12.38,"y":1},{"p":"J=9/2","s":"OAT","x":12.9,"y":1},{"p":"J=9/2","s":"OAT","x":13.02,"y":0.45},{"p":"J=9/2","s":"OAT","x":13.13,"y":0.92},{"p":"J=9/2","s":"OAT","x":13.24,"y":0.45},{"p":"J=9/2","s":"OAT","x":13.4,"y":1},{"p":"J=9/2","s":"OAT","x":13.92,"y":1},{"p":"J=9/2","s":"OAT","x":14.04,"y":0.45},{"p":"J=9/2","s":"OAT","x":14.15,"y":0.92},{"p":"J=9/2","s":"OAT","x":14.26,"y":0.45},{"p":"J=9/2","s":"OAT","x":14.42,"y":1},{"p":"J=9/2","s":"OAT","x":14.94,"y":1},{"p":"J=9/2","s":"OAT","x":15,"y":0.8},
{"p":"J=9/2","s":"MAT","x":0,"y":0.7},{"p":"J=9/2","s":"MAT","x":0.05,"y":0.4},{"p":"J=9/2","s":"MAT","x":0.25,"y":1.5},{"p":"J=9/2","s":"MAT","x":0.4,"y":1.2},{"p":"J=9/2","s":"MAT","x":0.55,"y":1.3},{"p":"J=9/2","s":"MAT","x":0.7,"y":0.95},{"p":"J=9/2","s":"MAT","x":0.86,"y":1.55},{"p":"J=9/2","s":"MAT","x":1.0,"y":1.15},{"p":"J=9/2","s":"MAT","x":1.15,"y":1.25},{"p":"J=9/2","s":"MAT","x":1.3,"y":0.9},{"p":"J=9/2","s":"MAT","x":1.43,"y":1.6},{"p":"J=9/2","s":"MAT","x":1.6,"y":1.2},{"p":"J=9/2","s":"MAT","x":1.75,"y":1.3},{"p":"J=9/2","s":"MAT","x":1.9,"y":1.0},{"p":"J=9/2","s":"MAT","x":2.05,"y":0.75},{"p":"J=9/2","s":"MAT","x":2.2,"y":1.25},{"p":"J=9/2","s":"MAT","x":2.35,"y":1.0},{"p":"J=9/2","s":"MAT","x":2.53,"y":1.62},{"p":"J=9/2","s":"MAT","x":2.7,"y":1.1},{"p":"J=9/2","s":"MAT","x":2.85,"y":0.85},{"p":"J=9/2","s":"MAT","x":3.07,"y":1.45},{"p":"J=9/2","s":"MAT","x":3.2,"y":1.05},{"p":"J=9/2","s":"MAT","x":3.35,"y":0.8},{"p":"J=9/2","s":"MAT","x":3.5,"y":1.2},{"p":"J=9/2","s":"MAT","x":3.69,"y":1.52},{"p":"J=9/2","s":"MAT","x":3.85,"y":1.1},{"p":"J=9/2","s":"MAT","x":4.0,"y":0.9},{"p":"J=9/2","s":"MAT","x":4.2,"y":0.6},{"p":"J=9/2","s":"MAT","x":4.35,"y":1.2},{"p":"J=9/2","s":"MAT","x":4.5,"y":1.0},{"p":"J=9/2","s":"MAT","x":4.65,"y":1.3},{"p":"J=9/2","s":"MAT","x":4.8,"y":1.55},{"p":"J=9/2","s":"MAT","x":4.95,"y":1.1},{"p":"J=9/2","s":"MAT","x":5.1,"y":0.9},{"p":"J=9/2","s":"MAT","x":5.25,"y":1.25},{"p":"J=9/2","s":"MAT","x":5.4,"y":1.05},{"p":"J=9/2","s":"MAT","x":5.55,"y":1.3},{"p":"J=9/2","s":"MAT","x":5.7,"y":0.9},{"p":"J=9/2","s":"MAT","x":5.9,"y":1.6},{"p":"J=9/2","s":"MAT","x":6.05,"y":1.2},{"p":"J=9/2","s":"MAT","x":6.2,"y":1.35},{"p":"J=9/2","s":"MAT","x":6.35,"y":0.95},{"p":"J=9/2","s":"MAT","x":6.5,"y":1.15},{"p":"J=9/2","s":"MAT","x":6.65,"y":0.85},{"p":"J=9/2","s":"MAT","x":6.8,"y":1.3},{"p":"J=9/2","s":"MAT","x":7.0,"y":1.63},{"p":"J=9/2","s":"MAT","x":7.15,"y":1.15},{"p":"J=9/2","s":"MAT","x":7.3,"y":0.9},{"p":"J=9/2","s":"MAT","x":7.42,"y":1.3},{"p":"J=9/2","s":"MAT","x":7.6,"y":1.0},{"p":"J=9/2","s":"MAT","x":7.8,"y":1.15},{"p":"J=9/2","s":"MAT","x":7.95,"y":0.6},{"p":"J=9/2","s":"MAT","x":8.1,"y":1.55},{"p":"J=9/2","s":"MAT","x":8.25,"y":1.2},{"p":"J=9/2","s":"MAT","x":8.4,"y":1.05},{"p":"J=9/2","s":"MAT","x":8.55,"y":1.25},{"p":"J=9/2","s":"MAT","x":8.7,"y":0.9},{"p":"J=9/2","s":"MAT","x":8.9,"y":0.55},{"p":"J=9/2","s":"MAT","x":9.1,"y":1.2},{"p":"J=9/2","s":"MAT","x":9.29,"y":1.6},{"p":"J=9/2","s":"MAT","x":9.45,"y":1.4},{"p":"J=9/2","s":"MAT","x":9.6,"y":1.45},{"p":"J=9/2","s":"MAT","x":9.83,"y":1.5},{"p":"J=9/2","s":"MAT","x":10.0,"y":1.3},{"p":"J=9/2","s":"MAT","x":10.15,"y":1.4},{"p":"J=9/2","s":"MAT","x":10.27,"y":1.5},{"p":"J=9/2","s":"MAT","x":10.45,"y":1.0},{"p":"J=9/2","s":"MAT","x":10.6,"y":1.2},{"p":"J=9/2","s":"MAT","x":10.75,"y":0.9},{"p":"J=9/2","s":"MAT","x":11.06,"y":1.6},{"p":"J=9/2","s":"MAT","x":11.2,"y":0.9},{"p":"J=9/2","s":"MAT","x":11.4,"y":0.45},{"p":"J=9/2","s":"MAT","x":11.55,"y":0.9},{"p":"J=9/2","s":"MAT","x":11.7,"y":1.1},{"p":"J=9/2","s":"MAT","x":11.9,"y":0.5},{"p":"J=9/2","s":"MAT","x":12.16,"y":1.5},{"p":"J=9/2","s":"MAT","x":12.3,"y":1.05},{"p":"J=9/2","s":"MAT","x":12.45,"y":1.3},{"p":"J=9/2","s":"MAT","x":12.6,"y":0.85},{"p":"J=9/2","s":"MAT","x":12.75,"y":1.25},{"p":"J=9/2","s":"MAT","x":12.9,"y":0.95},{"p":"J=9/2","s":"MAT","x":13.1,"y":1.35},{"p":"J=9/2","s":"MAT","x":13.27,"y":1.63},{"p":"J=9/2","s":"MAT","x":13.45,"y":1.1},{"p":"J=9/2","s":"MAT","x":13.6,"y":1.3},{"p":"J=9/2","s":"MAT","x":13.75,"y":0.95},{"p":"J=9/2","s":"MAT","x":13.9,"y":1.2},{"p":"J=9/2","s":"MAT","x":14.05,"y":0.85},{"p":"J=9/2","s":"MAT","x":14.2,"y":1.1},{"p":"J=9/2","s":"MAT","x":14.35,"y":0.9},{"p":"J=9/2","s":"MAT","x":14.5,"y":1.58},{"p":"J=9/2","s":"MAT","x":14.65,"y":1.2},{"p":"J=9/2","s":"MAT","x":14.8,"y":1.35},{"p":"J=9/2","s":"MAT","x":15,"y":1.0}
]},
"facet":{"field":"p","type":"nominal","sort":["J=1","J=3/2","J=2","J=5/2","J=3","J=7/2","J=4","J=9/2"],"title":null,"header":{"title":null,"labels":false,"labelExpr":"''","labelFontSize":1,"labelPadding":0}},
"columns":2,
"spacing":{"row":16,"column":3},
"resolve":{"axis":{"x":"independent","y":"independent"}},
"spec":{
"width":204,"height":172,
"encoding":{
"x":{"field":"x","type":"quantitative","scale":{"domain":[0,15],"nice":false},"axis":{"values":[0,2,4,6,8,10,12,14],"title":"AQ t","labelOverlap":false}},
"y":{"field":"y","type":"quantitative","scale":{"domain":[0,2]},"axis":{"values":[0,0.5,1,1.5,2],"format":".1f","title":"ξₛ","labelOverlap":false}}
},
"layer":[
{"transform":[{"filter":"!(datum.s=='TAC' && datum.p!='J=1')"}],
"mark":{"type":"line","strokeWidth":1,"strokeOpacity":0.75,"clip":true},
"encoding":{
"color":{"field":"s","type":"nominal","scale":{"domain":["TAC","OAT","MAT"],"range":["#1e1e1e","#2b2be0","#ee2a2a"]},
"legend":{"title":null,"orient":"none","legendX":128,"legendY":-24,"direction":"horizontal","symbolType":"stroke","symbolSize":480,"symbolStrokeWidth":1.6,"labelFontSize":10,"columnPadding":22,"labelOffset":6}}
}},
{"transform":[{"filter":"datum.s=='TAC' && datum.p!='J=1'"}],
"mark":{"type":"line","strokeWidth":1,"strokeOpacity":0.8,"interpolate":"monotone","clip":true},
"encoding":{
"color":{"field":"s","type":"nominal"}
}},
{"transform":[{"filter":"datum.s=='TAC' && datum.x==0"}],
"mark":{"type":"text","align":"left","baseline":"middle","color":"#e8383d","fontSize":9,"fontStyle":"italic","font":"DejaVu Sans"},
"encoding":{"x":{"datum":0.35},"y":{"datum":1.91},"text":{"field":"p"}}}
]
},
"config":{
"view":{"stroke":"#bbbbbb","strokeWidth":1},
"header":{"labels":false,"title":null},
"axis":{"domain":false,"grid":false,"ticks":true,"tickSize":4,"tickColor":"#bbbbbb","labelFont":"DejaVu Sans","labelFontSize":9,"labelColor":"#333333","labelPadding":1,"titleFont":"DejaVu Serif","titleFontSize":10,"titleFontWeight":"normal","titleFontStyle":"italic","titleColor":"#333333"},
"axisX":{"tickCount":8},
"axisY":{"titlePadding":1,"format":".1f"},
"legend":{"labelFont":"DejaVu Sans","labelColor":"#333333"}
}
}
